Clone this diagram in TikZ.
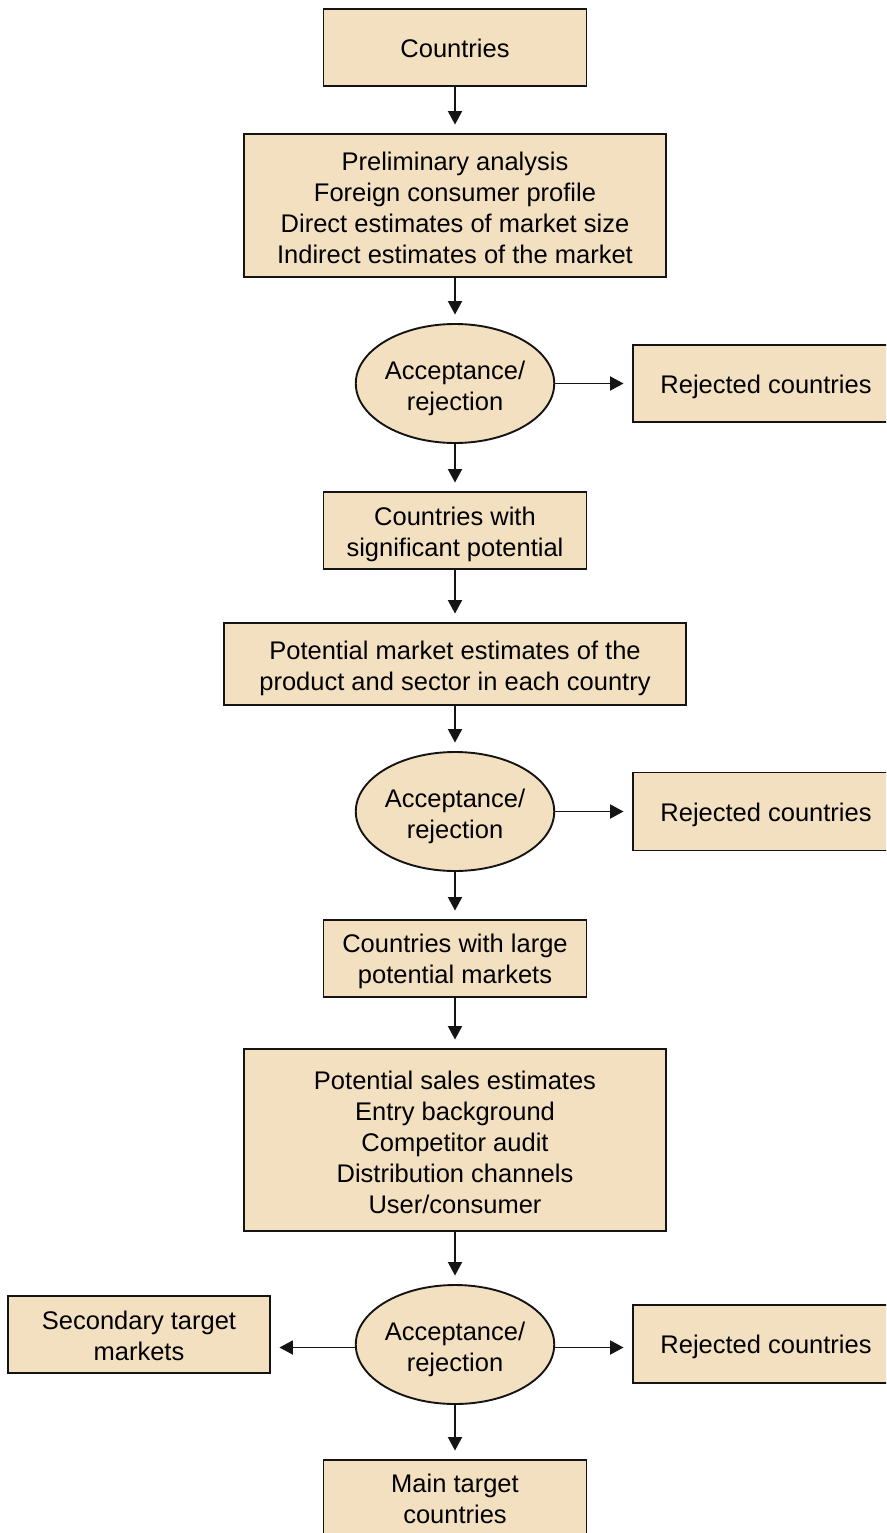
\documentclass[tikz,border=0pt]{standalone}
\usepackage{fontspec}
\setmainfont{Liberation Sans}
\usetikzlibrary{shapes.geometric,arrows.meta}
\definecolor{boxfill}{RGB}{243,224,193}
\definecolor{edge}{RGB}{20,20,20}
% invisible strut that sets the height of a node's first line
\newcommand{\padtop}[1]{\rule{0pt}{#1pt}}
\tikzset{
  stepbox/.style={draw=edge, fill=boxfill, line width=1.9pt, align=center,
    inner sep=0pt, font=\fontsize{25.5}{31}\selectfont},
  decide/.style={ellipse, draw=edge, fill=boxfill, line width=1.9pt, align=center,
    inner sep=0pt, minimum width=198pt, minimum height=119pt,
    font=\fontsize{25.5}{31}\selectfont},
  arr/.style={draw=edge, line width=1.9pt, shorten >=8.5pt,
    -{Triangle[length=13.5pt,width=14pt]}},
}
\begin{document}
\begin{tikzpicture}[x=1pt,y=-1pt]
\clip (0,0) rectangle (886,1533);
\fill[white] (0,0) rectangle (886,1533);

% main column
\node[stepbox, minimum width=263pt, minimum height=77pt] (c0) at (455,47.5) {\padtop{20.5}Countries};
\node[stepbox, minimum width=422pt, minimum height=143pt] (a1) at (455,205.5)
  {\padtop{22.6}Preliminary analysis\\Foreign consumer profile\\Direct estimates of market size\\Indirect estimates of the market};
\node[decide] (d1) at (455,383.5) {\padtop{28.6}Acceptance/\\rejection};
\node[stepbox, minimum width=266pt, minimum height=77pt] (r1) at (766,383.5) {\padtop{24.5}Rejected countries};
\node[stepbox, minimum width=263pt, minimum height=77pt] (c1) at (455,530.5) {\padtop{26.6}Countries with\\significant potential};
\node[stepbox, minimum width=462pt, minimum height=82pt] (a2) at (455,664) {\padtop{26.6}Potential market estimates of the\\product and sector in each country};
\node[decide] (d2) at (455,811.5) {\padtop{28.6}Acceptance/\\rejection};
\node[stepbox, minimum width=266pt, minimum height=78pt] (r2) at (766,811.5) {\padtop{24.5}Rejected countries};
\node[stepbox, minimum width=263pt, minimum height=77pt] (c2) at (455,958.5) {\padtop{24.6}Countries with large\\potential markets};
\node[stepbox, minimum width=422pt, minimum height=182pt] (a3) at (455,1140)
  {\padtop{22.6}Potential sales estimates\\Entry background\\Competitor audit\\Distribution channels\\User/consumer};
\node[decide] (d3) at (455,1344.5) {\padtop{28.6}Acceptance/\\rejection};
\node[stepbox, minimum width=262pt, minimum height=77pt] (s3) at (139,1334.5) {\padtop{20.6}Secondary target\\markets};
\node[stepbox, minimum width=266pt, minimum height=78pt] (r3) at (766,1344) {\padtop{24.5}Rejected countries};
\node[stepbox, minimum width=263pt, minimum height=78pt] (m3) at (455,1499) {Main target\\countries};

% connectors
\draw[arr] (c0.south) -- (a1.north);
\draw[arr] (a1.south) -- (d1.north);
\draw[arr] (d1.east) -- (r1.west);
\draw[arr] (d1.south) -- (c1.north);
\draw[arr] (c1.south) -- (a2.north);
\draw[arr] (a2.south) -- (d2.north);
\draw[arr] (d2.east) -- (r2.west);
\draw[arr] (d2.south) -- (c2.north);
\draw[arr] (c2.south) -- (a3.north);
\draw[arr] (a3.south) -- (d3.north);
\draw[arr] ([yshift=-3pt]d3.west) -- ([yshift=-3pt]d3.west -| s3.east);
\draw[arr] ([yshift=-3pt]d3.east) -- ([yshift=-3pt]d3.east -| r3.west);
\draw[arr] (d3.south) -- (m3.north);
\end{tikzpicture}
\end{document}
